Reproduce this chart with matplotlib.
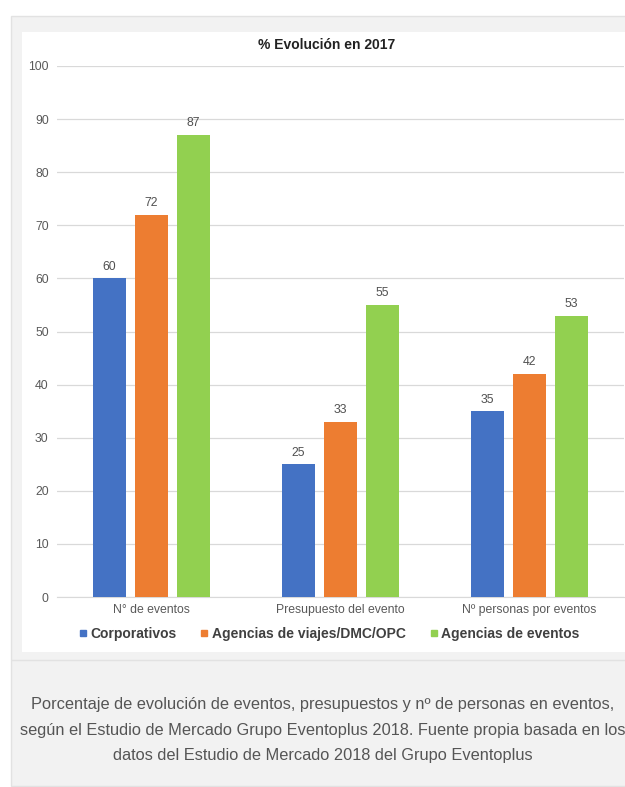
import matplotlib
matplotlib.use("Agg")
import matplotlib.pyplot as plt
from matplotlib.patches import Rectangle
from matplotlib.lines import Line2D
import numpy as np

plt.rcParams['font.family'] = ['Liberation Sans', 'DejaVu Sans']

categories = ["N° de eventos", "Presupuesto del evento", "Nº personas por eventos"]
series_names = ["Corporativos", "Agencias de viajes/DMC/OPC", "Agencias de eventos"]
corporativos = [60, 25, 35]
agencias_viajes = [72, 33, 42]
agencias_eventos = [87, 55, 53]
colors = ["#4472C4", "#ED7D31", "#92D050"]
yticks = [0, 10, 20, 30, 40, 50, 60, 70, 80, 90, 100]
title = "% Evolución en 2017"
caption = ("Porcentaje de evolución de eventos, presupuestos y nº de personas en eventos,\n"
           "según el Estudio de Mercado Grupo Eventoplus 2018. Fuente propia basada en los\n"
           "datos del Estudio de Mercado 2018 del Grupo Eventoplus")

W, H = 625, 787
fig = plt.figure(figsize=(W / 100, H / 100), dpi=100)
fig.patch.set_facecolor("white")

def fx(x):
    return x / W

def fy(y):
    return 1 - y / H

# background panels
fig.patches.append(Rectangle((fx(11), fy(786)), fx(640), 786 / H - 16 / H,
                             transform=fig.transFigure, facecolor="#f2f2f2",
                             edgecolor="#e2e2e2", lw=1, zorder=0))
fig.patches.append(Rectangle((fx(22), fy(652)), fx(620), (652 - 32) / H,
                             transform=fig.transFigure, facecolor="white",
                             edgecolor="none", zorder=1))
fig.add_artist(Line2D([fx(12), fx(625)], [fy(660), fy(660)], transform=fig.transFigure,
                      color="#e2e2e2", lw=1, zorder=2))

ax = fig.add_axes([fx(57), fy(597), fx(624) - fx(57), fy(66) - fy(597)])
ax.set_zorder(3)
ax.patch.set_alpha(0)

x = np.arange(len(categories))
width = 0.175
step = 0.222
data = [corporativos, agencias_viajes, agencias_eventos]
for i, (vals, c, name) in enumerate(zip(data, colors, series_names)):
    bars = ax.bar(x + (i - 1) * step, vals, width, color=c, label=name, zorder=3)
    ax.bar_label(bars, padding=4, color="#505050", fontsize=8.8)

ax.set_xlim(-0.5, len(categories) - 0.5)
ax.set_ylim(0, 100)
ax.set_yticks(yticks)
ax.set_xticks(x)
ax.set_xticklabels(categories)
ax.tick_params(axis="both", length=0, colors="#595959", labelsize=8.8)
ax.tick_params(axis="y", pad=6)
ax.tick_params(axis="x", pad=5)
ax.grid(axis="y", color="#d9d9d9", lw=0.9, zorder=0)
ax.set_axisbelow(True)
for s in ["top", "right", "left"]:
    ax.spines[s].set_visible(False)
ax.spines["bottom"].set_color("#d9d9d9")

fig.text(fx(327), fy(45), title, ha="center", va="center", fontsize=10,
         fontweight="bold", color="#222222", zorder=4)

handles = [Line2D([], [], marker="s", ls="", color=c, markersize=5) for c in colors]
leg = fig.legend(handles, series_names, loc="center", bbox_to_anchor=(fx(329), fy(634)),
                 ncol=3, frameon=False, handlelength=0.6, handletextpad=0.25,
                 columnspacing=1.7, prop={"weight": "bold", "size": 10})
for t in leg.get_texts():
    t.set_color("#404040")
leg.set_zorder(4)

fig.text(fx(323), fy(730), caption, ha="center", va="center", fontsize=11.8,
         color="#555555", linespacing=1.85, zorder=4)

fig.savefig("out.png", dpi=100, facecolor="white")
